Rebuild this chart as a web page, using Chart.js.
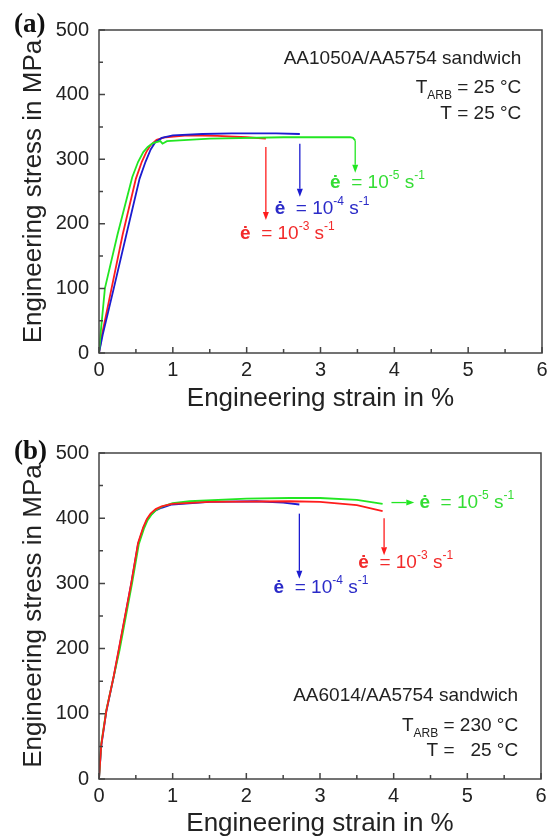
<!DOCTYPE html>
<html>
<head>
<meta charset="utf-8">
<script src="https://cdn.jsdelivr.net/npm/chart.js@4"></script>
<style>
  html, body { margin: 0; padding: 0; background: #fff; overflow: hidden; }
  canvas { display: block; }
</style>
</head>
<body>
<canvas id="chartA" width="556" height="419"></canvas>
<canvas id="chartB" width="556" height="419"></canvas>
<script>
// axis ticks
const xTicks = [0, 1, 2, 3, 4, 5, 6];
const xMinor = [0.5, 1.5, 2.5, 3.5, 4.5, 5.5];
const yTicks = [0, 100, 200, 300, 400, 500];
const yMinor = [50, 150, 250, 350, 450];

// (a) AA1050A/AA5754, strain in %, stress in MPa
const strainA_red = [0, 0.04, 0.17, 0.32, 0.5, 0.58, 0.64, 0.7, 0.78, 0.9, 1.2, 1.6, 2.0, 2.26];
const stressA_red = [0, 28, 100, 183, 270, 296, 311, 322, 330, 334, 337, 336, 334, 332];
const strainA_blue = [0, 0.05, 0.2, 0.37, 0.55, 0.63, 0.7, 0.76, 0.85, 1.0, 1.4, 1.8, 2.4, 2.72];
const stressA_blue = [0, 28, 100, 183, 270, 296, 315, 326, 333, 337, 339, 340, 340, 339];
const strainA_green = [0, 0.02, 0.08, 0.25, 0.45, 0.53, 0.6, 0.66, 0.73, 0.83, 0.86, 0.92, 1.5, 2.5, 3.4, 3.44, 3.47];
const stressA_green = [0, 28, 100, 183, 272, 296, 311, 319, 325, 328, 324, 328, 332, 334, 334, 333, 329];

// (b) AA6014/AA5754
const strainB_blue = [0, 0.03, 0.1, 0.2, 0.27, 0.44, 0.53, 0.6, 0.65, 0.7, 0.77, 0.85, 0.99, 1.5, 2.14, 2.5, 2.72];
const stressB_blue = [0, 50, 104, 157, 198, 301, 360, 384, 397, 405, 412, 416, 421, 425, 426, 424, 421];
const strainB_red = [0, 0.03, 0.1, 0.2, 0.27, 0.44, 0.53, 0.6, 0.65, 0.7, 0.77, 0.85, 0.99, 1.5, 2.59, 3.0, 3.5, 3.85];
const stressB_red = [0, 52, 105, 158, 200, 302, 362, 386, 399, 407, 414, 418, 422, 425, 426, 425, 420, 411];
const strainB_green = [0, 0.03, 0.1, 0.2, 0.28, 0.45, 0.54, 0.61, 0.66, 0.71, 0.78, 0.86, 1.0, 1.23, 2.0, 2.59, 3.0, 3.5, 3.85];
const stressB_green = [0, 54, 106, 157, 198, 301, 360, 384, 397, 405, 413, 418, 423, 426, 430, 431, 431, 428, 422];

// arrows [x0, y0, x1, y1] in data units
const arrowsA = [
  { c: 'red', p: [2.26, 319, 2.26, 206] },
  { c: 'blue', p: [2.72, 324, 2.72, 242] },
  { c: 'green', p: [3.47, 329, 3.47, 279] }
];
const arrowsB = [
  { c: 'blue', p: [2.72, 407, 2.72, 307] },
  { c: 'red', p: [3.87, 400, 3.87, 343] },
  { c: 'green', p: [3.97, 424, 4.28, 424] }
];

// rate labels: exponent, colour, left x, centre y
const ratesA = [
  { c: 'red', e: '-3', x: 1.91, y: 185 },
  { c: 'blue', e: '-4', x: 2.38, y: 224 },
  { c: 'green', e: '-5', x: 3.13, y: 264 }
];
const ratesB = [
  { c: 'blue', e: '-4', x: 2.37, y: 294 },
  { c: 'red', e: '-3', x: 3.52, y: 332 },
  { c: 'green', e: '-5', x: 4.35, y: 424 }
];

const lineColors = { red: '#ff1c1c', blue: '#1c1cd0', green: '#22e622' };
const textColors = { red: '#f22a2a', blue: '#2a2ac8', green: '#33dd33' };

const SANS = '"Liberation Sans", Arial, sans-serif';

function pts(xs, ys) {
  return xs.map((x, i) => ({ x: x, y: ys[i] }));
}

function curve(color, xs, ys) {
  return {
    data: pts(xs, ys),
    borderColor: lineColors[color],
    borderWidth: 1.8,
    pointRadius: 0,
    showLine: true,
    tension: 0
  };
}

function fontFor(p, size) {
  const s = p.sup || p.sub ? Math.round(size * 0.62) : size;
  return (p.b ? 'bold ' : '') + s + 'px ' + SANS;
}

function drawRich(ctx, parts, x, y, align, size) {
  let w = 0;
  parts.forEach(p => { ctx.font = fontFor(p, size); w += ctx.measureText(p.t).width; });
  let cx = align === 'right' ? x - w : x;
  ctx.textAlign = 'left';
  ctx.textBaseline = 'middle';
  parts.forEach(p => {
    ctx.font = fontFor(p, size);
    const dy = p.sup ? -size * 0.36 : (p.sub ? size * 0.42 : 0);
    ctx.fillText(p.t, cx, y + dy);
    cx += ctx.measureText(p.t).width;
  });
}

const panelDecor = {
  id: 'panelDecor',
  afterDatasetsDraw(chart, args, opts) {
    const ctx = chart.ctx;
    const xs = chart.scales.x, ys = chart.scales.y;
    const area = chart.chartArea;
    ctx.save();

    // 框 + 内向刻度
    ctx.strokeStyle = '#444';
    ctx.lineWidth = 1.5;
    ctx.strokeRect(area.left, area.top, area.right - area.left, area.bottom - area.top);
    ctx.beginPath();
    xTicks.concat(xMinor).forEach(v => {
      const px = xs.getPixelForValue(v);
      const len = xTicks.includes(v) ? 6 : 4;
      ctx.moveTo(px, area.bottom);
      ctx.lineTo(px, area.bottom - len);
    });
    yTicks.concat(yMinor).forEach(v => {
      const py = ys.getPixelForValue(v);
      const len = yTicks.includes(v) ? 6 : 4;
      ctx.moveTo(area.left, py);
      ctx.lineTo(area.left + len, py);
    });
    ctx.stroke();

    // 箭头
    opts.arrows.forEach(a => {
      const x0 = xs.getPixelForValue(a.p[0]), y0 = ys.getPixelForValue(a.p[1]);
      const x1 = xs.getPixelForValue(a.p[2]), y1 = ys.getPixelForValue(a.p[3]);
      const ang = Math.atan2(y1 - y0, x1 - x0);
      const hl = 8, hw = 3;
      ctx.strokeStyle = lineColors[a.c];
      ctx.fillStyle = lineColors[a.c];
      ctx.lineWidth = 1.3;
      ctx.beginPath();
      ctx.moveTo(x0, y0);
      ctx.lineTo(x1 - Math.cos(ang) * hl, y1 - Math.sin(ang) * hl);
      ctx.stroke();
      ctx.beginPath();
      ctx.moveTo(x1, y1);
      ctx.lineTo(x1 - Math.cos(ang) * hl - Math.sin(ang) * hw, y1 - Math.sin(ang) * hl + Math.cos(ang) * hw);
      ctx.lineTo(x1 - Math.cos(ang) * hl + Math.sin(ang) * hw, y1 - Math.sin(ang) * hl - Math.cos(ang) * hw);
      ctx.closePath();
      ctx.fill();
    });

    // 应变速率标签
    opts.rates.forEach(r => {
      ctx.fillStyle = textColors[r.c];
      drawRich(ctx, [
        { t: '\u0117', b: true }, { t: '  = 10' }, { t: r.e, sup: true },
        { t: ' s' }, { t: '-1', sup: true }
      ], xs.getPixelForValue(r.x), ys.getPixelForValue(r.y), 'left', 19);
    });

    // 材料说明
    ctx.fillStyle = '#222';
    const rx = xs.getPixelForValue(opts.infoX);
    drawRich(ctx, [{ t: opts.title }], rx, ys.getPixelForValue(opts.infoY[0]), 'right', 19);
    drawRich(ctx, [{ t: 'T' }, { t: 'ARB', sub: true }, { t: ' = ' + opts.tArb + ' \u00b0C' }],
      rx, ys.getPixelForValue(opts.infoY[1]), 'right', 19);
    drawRich(ctx, [{ t: opts.tLine }], rx, ys.getPixelForValue(opts.infoY[2]), 'right', 19);

    // 面板标记
    ctx.font = 'bold 27px "Liberation Serif", "Times New Roman", serif';
    ctx.textAlign = 'left';
    ctx.textBaseline = 'middle';
    ctx.fillStyle = '#111';
    ctx.fillText(opts.tag, 14, opts.tagY);
    ctx.restore();
  }
};

function makeChart(id, datasets, cfg) {
  return new Chart(document.getElementById(id), {
    type: 'scatter',
    data: { datasets: datasets },
    options: {
      responsive: false,
      animation: false,
      devicePixelRatio: 1,
      layout: { padding: { left: 0, right: cfg.right, top: cfg.top, bottom: 0 } },
      plugins: {
        legend: { display: false },
        tooltip: { enabled: false },
        panelDecor: cfg.decor
      },
      scales: {
        x: {
          type: 'linear', min: 0, max: 6,
          afterBuildTicks: s => { s.ticks = xTicks.map(v => ({ value: v })); },
          afterFit: s => { s.height = cfg.xAxisH; },
          grid: { display: false, drawTicks: false },
          border: { display: false },
          ticks: { color: '#222', padding: 5, maxRotation: 0, font: { family: SANS, size: 20 } },
          title: {
            display: true, text: 'Engineering strain in %', color: '#222',
            font: { family: SANS, size: 26, lineHeight: 1 },
            padding: { top: 0, bottom: cfg.xTitlePad }
          }
        },
        y: {
          type: 'linear', min: 0, max: 500,
          afterBuildTicks: s => { s.ticks = yTicks.map(v => ({ value: v })); },
          afterFit: s => { s.width = 99; },
          grid: { display: false, drawTicks: false },
          border: { display: false },
          ticks: { color: '#222', padding: 10, font: { family: SANS, size: 20 } },
          title: {
            display: true, text: 'Engineering stress in MPa', color: '#222',
            font: { family: SANS, size: 26, lineHeight: 1 },
            padding: { top: 21, bottom: 0 }
          }
        }
      }
    },
    plugins: [panelDecor]
  });
}

makeChart('chartA', [
  curve('green', strainA_green, stressA_green),
  curve('blue', strainA_blue, stressA_blue),
  curve('red', strainA_red, stressA_red)
], {
  top: 30, right: 14, xAxisH: 66, xTitlePad: 7,
  decor: {
    tag: '(a)', tagY: 25,
    arrows: arrowsA, rates: ratesA,
    title: 'AA1050A/AA5754 sandwich', tArb: '25', tLine: 'T = 25 \u00b0C',
    infoX: 5.72, infoY: [456, 411, 371]
  }
});

makeChart('chartB', [
  curve('red', strainB_red, stressB_red),
  curve('green', strainB_green, stressB_green),
  curve('blue', strainB_blue, stressB_blue)
], {
  top: 34, right: 15, xAxisH: 59, xTitlePad: 1,
  decor: {
    tag: '(b)', tagY: 33,
    arrows: arrowsB, rates: ratesB,
    title: 'AA6014/AA5754 sandwich', tArb: '230', tLine: 'T =   25 \u00b0C',
    infoX: 5.69, infoY: [127, 81, 43]
  }
});
</script>
</body>
</html>
